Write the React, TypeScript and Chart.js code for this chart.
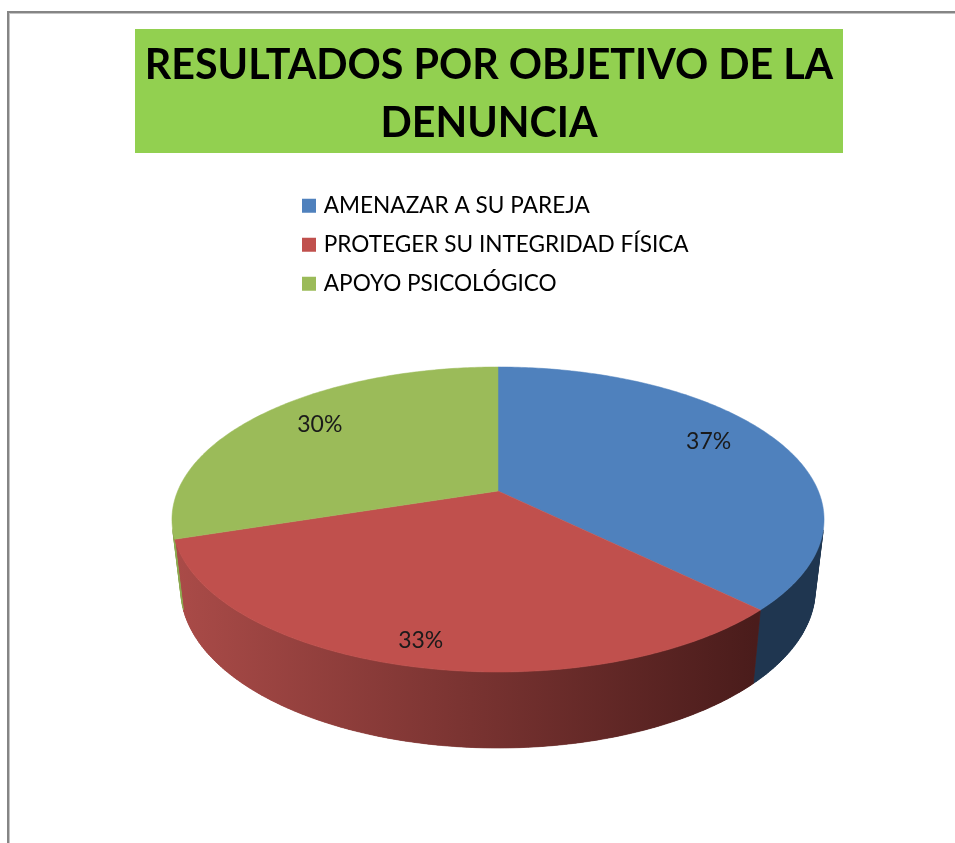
import React, { useEffect, useRef } from "react";
import { Chart, registerables } from "chart.js";

Chart.register(...registerables);

const categories = ["AMENAZAR A SU PAREJA", "PROTEGER SU INTEGRIDAD FÍSICA", "APOYO PSICOLÓGICO"];
const shares = [37.4, 32.6, 30];
const topColors = ["#4F81BD", "#C0504D", "#9BBB59"];
const sideStops = [
  ["#1F3650", "#1F3650"],
  ["#AA4B48", "#4A1C1B"],
  ["#8CA850", "#8CA850"],
];
const titleLines = ["RESULTADOS POR OBJETIVO DE LA", "DENUNCIA"];
const labelRadius = [0.79, 0.88, 0.78];
const labelAngleNudge = [-0.08, 0, 0.05];

const FONT = "Lato, Carlito, sans-serif";
// Perspective of the tilted disc
const CX = 498, CY = 491, A = 320.3, B = 147.2, K = 0.1869;

function project(t: number, r = 1) {
  const u = r * Math.cos(t), v = r * Math.sin(t);
  const w = 1 / (1 - K * v);
  return { x: CX + A * u * w, y: CY + B * v * w };
}
function lower(p: { x: number; y: number }) {
  return { x: CX + (p.x - CX) * 0.973, y: p.y + 76 - (672 - p.y) * 0.04 };
}
function rim(start: number, end: number) {
  const n = Math.max(8, Math.ceil((end - start) * 80));
  const pts = [];
  for (let i = 0; i <= n; i++) pts.push(project(start + ((end - start) * i) / n));
  return pts;
}

const pie3d = {
  id: "pie3d",
  beforeDraw(chart: any) {
    const { ctx } = chart;
    ctx.save();
    ctx.fillStyle = "#fff";
    ctx.fillRect(0, 0, chart.width, chart.height);
    ctx.fillStyle = "#C4C4C4";
    ctx.fillRect(9, 13, 1, chart.height);
    ctx.fillRect(9, 13, chart.width, 1);
    ctx.fillStyle = "#858585";
    ctx.fillRect(7, 11, 2, chart.height);
    ctx.fillRect(7, 11, chart.width, 2);
    ctx.fillStyle = "#92D050";
    ctx.fillRect(135, 29, 708, 124);
    ctx.restore();
  },
  afterLayout(chart: any) {
    const l = chart.legend;
    const w = l.right - l.left, h = l.bottom - l.top;
    const pad = l.options.labels.padding;
    l.left = 305.5 - pad;
    l.right = l.left + w;
    l.top = 194.5 - pad;
    l.bottom = l.top + h;
  },
  beforeDatasetsDraw(chart: any) {
    const { ctx } = chart;
    const arcs = chart.getDatasetMeta(0).data;
    ctx.save();
    // side walls: a solid band first, then narrow quads so the silhouette stays filled
    arcs.forEach((arc: any, i: number) => {
      const top = rim(arc.startAngle, arc.endAngle).filter((p) => p.y >= 528);
      const g = ctx.createLinearGradient(175, 0, 755, 0);
      g.addColorStop(0, sideStops[i][0]);
      g.addColorStop(1, sideStops[i][1]);
      ctx.fillStyle = g;
      ctx.strokeStyle = g;
      ctx.lineWidth = 0.6;
      ctx.beginPath();
      [...top, ...top.map(lower).reverse()].forEach((p, j) =>
        j ? ctx.lineTo(p.x, p.y) : ctx.moveTo(p.x, p.y)
      );
      ctx.closePath();
      ctx.fill();
      for (let j = 0; j < top.length - 1; j++) {
        const a = top[j], b = top[j + 1], c = lower(b), d = lower(a);
        ctx.beginPath();
        ctx.moveTo(a.x, a.y);
        ctx.lineTo(b.x, b.y);
        ctx.lineTo(c.x, c.y);
        ctx.lineTo(d.x, d.y);
        ctx.closePath();
        ctx.fill();
        ctx.stroke();
      }
    });
    // top faces
    arcs.forEach((arc: any, i: number) => {
      ctx.fillStyle = topColors[i];
      ctx.strokeStyle = topColors[i];
      ctx.lineWidth = 0.5;
      ctx.beginPath();
      ctx.moveTo(CX, CY);
      rim(arc.startAngle, arc.endAngle).forEach((p) => ctx.lineTo(p.x, p.y));
      ctx.closePath();
      ctx.fill();
      ctx.stroke();
    });
    // value labels
    ctx.fillStyle = "#1a1a1a";
    ctx.font = `23px ${FONT}`;
    ctx.textAlign = "center";
    ctx.textBaseline = "middle";
    arcs.forEach((arc: any, i: number) => {
      const mid = (arc.startAngle + arc.endAngle) / 2 + labelAngleNudge[i];
      const p = project(mid, labelRadius[i]);
      ctx.fillText(`${Math.round(shares[i])}%`, p.x, p.y);
    });
    ctx.restore();
    return false;
  },
};

export default function App() {
  const ref = useRef<HTMLCanvasElement | null>(null);
  useEffect(() => {
    const chart = new Chart(ref.current as HTMLCanvasElement, {
      type: "pie",
      data: {
        labels: categories,
        datasets: [{ data: shares, backgroundColor: topColors, borderWidth: 0 }],
      },
      plugins: [pie3d],
      options: {
        responsive: false,
        animation: false,
        layout: { padding: { left: 23 } },
        plugins: {
          tooltip: { enabled: false },
          title: {
            display: true,
            text: titleLines,
            color: "#000",
            font: { family: FONT, size: 41.2, weight: "bold", lineHeight: 1.41 },
            padding: { top: 36.5, bottom: 10 },
          },
          legend: {
            display: true,
            position: "left",
            align: "start",
            labels: {
              boxWidth: 7,
              boxHeight: 7,
              color: "#1a1a1a",
              font: { family: FONT, size: 22.6 },
              padding: 16.4,
              generateLabels: () =>
                categories.map((text, i) => ({
                  text,
                  index: i,
                  fillStyle: topColors[i],
                  strokeStyle: topColors[i],
                  lineWidth: 7,
                  hidden: false,
                })),
            },
          },
        },
      },
    } as any);
    return () => chart.destroy();
  }, []);
  return (
    <canvas
      ref={ref}
      width={955}
      height={843}
      style={{ position: "absolute", left: 0, top: 0, display: "block", filter: "blur(0.4px)" }}
    />
  );
}
